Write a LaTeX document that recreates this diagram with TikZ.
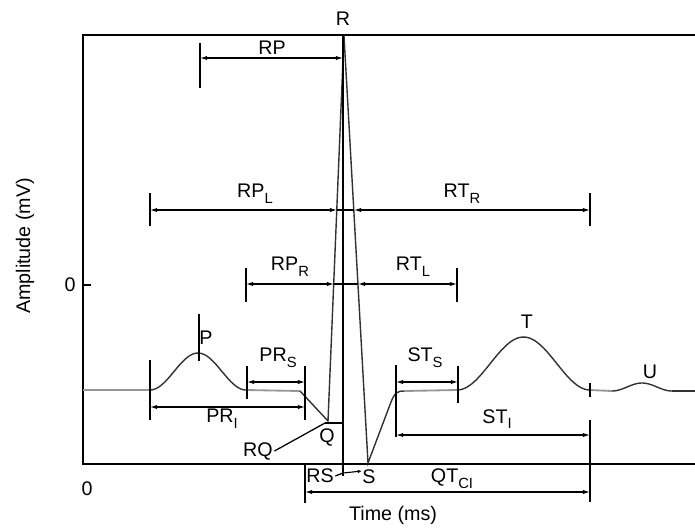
\documentclass[tikz,border=0pt]{standalone}
\usepackage{fontspec}
\setmainfont{Liberation Sans}
\usepackage{xcolor}
\usetikzlibrary{arrows.meta}
\definecolor{WaveColor}{RGB}{50,50,50}
\definecolor{BaseColor}{RGB}{150,150,150}
\newcommand{\lowsub}[1]{\raisebox{-0.55ex}{\fontsize{10.5}{11}\selectfont #1}}
\tikzset{
  axisline/.style={line width=1pt, black},
  ecgtick/.style={line width=0.9pt, black},
  dimline/.style={<->, line width=0.8pt, black},
  wave/.style={line width=1pt, WaveColor},
  baseline/.style={line width=1.3pt, BaseColor},
}

\begin{document}
\begin{tikzpicture}[x=0.025cm, y=-0.025cm, >={Latex[length=5pt,width=3pt]}, every node/.style={font=\fontsize{14}{16}\selectfont, inner sep=1pt}]
    \useasboundingbox (0,0) rectangle (695,529);
    \coordinate (tl) at (83,35);
    \coordinate (tr) at (695,35);
    \coordinate (bl) at (83,464);
    \coordinate (br) at (695,464);
    \draw[axisline] (tr) -- (tl) -- (bl) -- (br);
    \coordinate (yta) at (83,285);
    \coordinate (ytb) at (91,285);
    \draw[axisline] (yta) -- (ytb);
    \node (yzero) at (70,285) {0};
    \node (xzero) at (87,489) {0};
    \node[rotate=90] (ylabel) at (25,246) {Amplitude (mV)};
    \node (xlabel) at (393,515) {Time (ms)};
    \coordinate (start) at (83,390);
    \coordinate (pon) at (150,390);
    \coordinate (poff) at (246,390);
    \coordinate (qon) at (300,391);
    \coordinate (qpt) at (328,421);
    \coordinate (rpt) at (344,36);
    \coordinate (spt) at (368,463);
    \coordinate (stup) at (391,402);
    \coordinate (ston) at (404,391);
    \coordinate (ton) at (457,390);
    \coordinate (toff) at (590,390);
    \coordinate (uon) at (612,391);
    \coordinate (uoff) at (672,391);
    \coordinate (stop) at (695,391);
    \draw[baseline] (start) -- (pon);
    \draw[wave] plot[domain=0:1, samples=40] ({150+96*\x},{390-37*(1-cos(360*\x))/2});
    \draw[baseline] (poff) -- (qon);
    \draw[wave] (qon) -- (qpt) -- (rpt) -- (spt) -- (stup) .. controls (395,392) and (398,391) .. (ston);
    \draw[baseline] (ston) -- (ton);
    \draw[wave] plot[domain=0:1, samples=50] ({457+133*\x},{390-53*(1-cos(360*\x))/2});
    \draw[baseline] (toff) -- (uon);
    \draw[wave] plot[domain=0:1, samples=30] ({612+60*\x},{391-8*(1-cos(360*\x))/2});
    \draw[wave] (uoff) -- (stop);
    \coordinate (rtop) at (343,35);
    \coordinate (rbot) at (343,476);
    \draw[ecgtick] (rtop) -- (rbot);
    \foreach \n/\x/\ya/\yb in {rpa/200/43/88, rpl/150/193/226, rtr/590/193/226, rpr/246/268/302, rtl/457/268/302, ptop/199/314/361, pri/150/360/420, prs/247/366/399, prq/305/366/420, sts/396/365/437, ste/458/366/403, tend/590/383/397, sti/590/420/502, qtc/305/465/503}{
      \coordinate (\n-up) at (\x,\ya);
      \coordinate (\n-dn) at (\x,\yb);
      \draw[ecgtick] (\n-up) -- (\n-dn);
    }
    \foreach \n/\xa/\xb/\y in {rp/200/343/58, rpl/150/337/210, rtr/354/590/210, rpr/246/334/284, rtl/358/457/284, prs/247/305/382, pri/150/305/407, sts/396/458/382, sti/396/590/435, qtc/305/590/492}{
      \coordinate (\n-l) at (\xa,\y);
      \coordinate (\n-r) at (\xb,\y);
      \draw[dimline] (\n-l) -- (\n-r);
    }
    \draw[ecgtick] (rpl-r) -- (rtr-l);
    \draw[ecgtick] (rpr-r) -- (rtl-l);
    \node (rlab) at (343,19) {R};
    \node (plab) at (206,338) {P};
    \node (qlab) at (327,437) {Q};
    \node (slab) at (369,477) {S};
    \node (tlab) at (527,322) {T};
    \node (ulab) at (650,372) {U};
    \node (rplab) at (272,48) {RP};
    \node (rpllab) at (255,194) {RP\lowsub{L}};
    \node (rtrlab) at (462,194) {RT\lowsub{R}};
    \node (rprlab) at (290,267) {RP\lowsub{R}};
    \node (rtllab) at (413,267) {RT\lowsub{L}};
    \node (prslab) at (278,358) {PR\lowsub{S}};
    \node (prilab) at (222,419) {PR\lowsub{I}};
    \node (stslab) at (425,358) {ST\lowsub{S}};
    \node (stilab) at (497,419) {ST\lowsub{I}};
    \node (qtclab) at (452,479) {QT\lowsub{CI}};
    \node (rslab) at (320,476) {RS};
    \node (rqlab) at (258,451) {RQ};
    \coordinate (rs-l) at (343,473);
    \coordinate (rs-r) at (362,471);
    \draw[ecgtick] (rslab.east) -- (rs-l);
    \draw[line width=0.8pt, -{Latex[length=3pt,width=2.5pt]}] (rs-l) -- (rs-r);
    \coordinate (rqa) at (325,423);
    \coordinate (rqb) at (343,423);
    \draw[ecgtick] (rqa) -- (rqb);
    \draw[ecgtick] (rqlab.east) -- (rqa);
  \end{tikzpicture}
\end{document}
